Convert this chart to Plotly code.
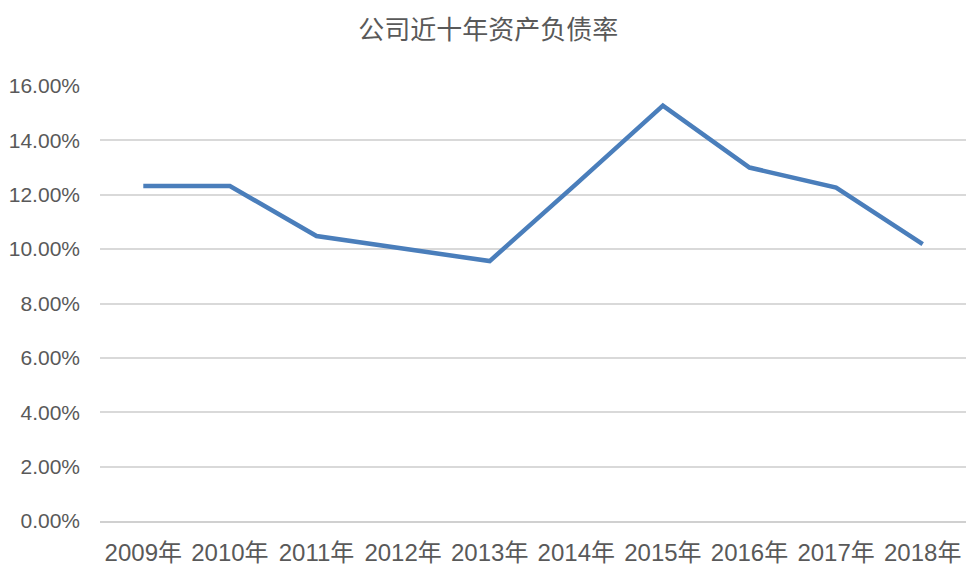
import plotly.graph_objects as go

title_text = "公司近十年资产负债率"
years = ["2009年", "2010年", "2011年", "2012年", "2013年",
         "2014年", "2015年", "2016年", "2017年", "2018年"]
debt_ratio = [0.1232, 0.1232, 0.1048, 0.1000, 0.0956,
              0.1240, 0.1528, 0.1300, 0.1226, 0.1018]
y_ticks = [0, 0.02, 0.04, 0.06, 0.08, 0.10, 0.12, 0.14, 0.16]

font_fam = "Liberation Sans, Noto Sans CJK SC, sans-serif"
text_col = "#595959"

fig = go.Figure()
fig.add_trace(go.Scatter(
    x=years, y=debt_ratio, mode="lines",
    line=dict(color="#4A7EBB", width=4.5),
    hoverinfo="x+y",
))

fig.update_layout(
    width=974, height=570,
    paper_bgcolor="white", plot_bgcolor="white",
    margin=dict(l=92, r=16, t=78, b=57),
    showlegend=False,
    title=dict(text=title_text, x=0.493, xanchor="center", y=0.961, yanchor="middle",
               font=dict(family="Noto Sans CJK SC, sans-serif", size=26, color=text_col)),
    font=dict(family=font_fam, color=text_col),
)
fig.update_xaxes(
    type="category", range=[-0.5, 9.5], automargin=False,
    showgrid=False, showline=True, linecolor="#d0d0d0", linewidth=1.5,
    ticks="", tickfont=dict(size=24, color=text_col, family=font_fam),
    ticklabelstandoff=9, fixedrange=True,
)
fig.update_yaxes(
    range=[0, 0.16], tickvals=y_ticks, tickformat=".2%", automargin=False,
    showgrid=True, gridcolor="#d9d9d9", gridwidth=1.5,
    zeroline=False, showline=False, ticks="",
    tickfont=dict(size=21, color=text_col, family=font_fam),
    ticklabelstandoff=19, fixedrange=True,
)

fig.write_html("out.html")
